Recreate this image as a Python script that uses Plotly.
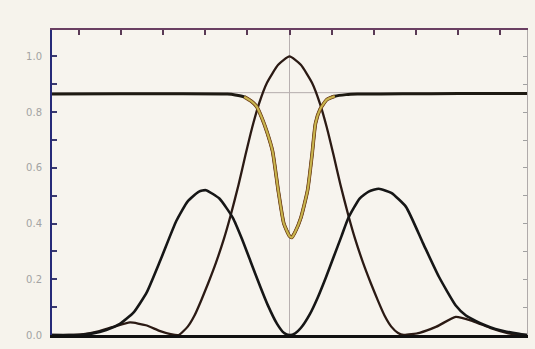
import plotly.graph_objects as go

# x in units where the central peak's first zero is ~1; 0 = centre line
A_x = [-2.10, -1.95, -1.82, -1.70, -1.55, -1.41, -1.27, -1.15, -1.05, -0.98, -0.90,
       -0.84, -0.78, -0.72, -0.65, -0.58, -0.52, -0.45, -0.39, -0.33, -0.27, -0.20,
       -0.10, 0.0, 0.10, 0.20, 0.27, 0.33, 0.39, 0.45, 0.52, 0.58, 0.65, 0.72, 0.78,
       0.84, 0.90, 0.96, 1.01, 1.15, 1.30, 1.47, 1.62, 1.78, 1.92, 2.02, 2.10]
A_y = [0.0, 0.0, 0.003, 0.012, 0.03, 0.045, 0.035, 0.015, 0.003, 0.0, 0.03,
       0.07, 0.125, 0.185, 0.26, 0.345, 0.43, 0.54, 0.645, 0.745, 0.83, 0.905,
       0.97, 1.0, 0.97, 0.905, 0.83, 0.745, 0.645, 0.54, 0.43, 0.345, 0.26, 0.185, 0.125,
       0.07, 0.03, 0.007, 0.0, 0.008, 0.03, 0.065, 0.05, 0.025, 0.008, 0.0, 0.0]

B_x = [-2.10, -1.95, -1.85, -1.75, -1.62, -1.50, -1.38, -1.26, -1.14, -1.00, -0.90,
       -0.80, -0.74, -0.62, -0.50, -0.42, -0.345, -0.26, -0.195, -0.11, -0.05, 0.0,
       0.05, 0.10, 0.18, 0.25, 0.32, 0.39, 0.46, 0.52, 0.62, 0.70, 0.79, 0.90, 1.03,
       1.18, 1.32, 1.47, 1.56, 1.65, 1.73, 1.82, 1.92, 2.03, 2.10]
B_y = [0.0, 0.0, 0.0, 0.005, 0.018, 0.04, 0.08, 0.155, 0.27, 0.41, 0.48,
       0.515, 0.52, 0.49, 0.42, 0.345, 0.265, 0.175, 0.11, 0.04, 0.008, 0.0,
       0.006, 0.025, 0.075, 0.135, 0.205, 0.28, 0.355, 0.42, 0.49, 0.515, 0.525, 0.51, 0.46,
       0.33, 0.21, 0.106, 0.07, 0.05, 0.035, 0.022, 0.012, 0.004, 0.0]

C_x = [-2.10, -1.50, -1.00, -0.55, -0.48, -0.40, -0.34, -0.29, -0.245, -0.20, -0.15,
       -0.10, -0.05, 0.0, 0.02, 0.05, 0.10, 0.16, 0.20, 0.23, 0.27, 0.33, 0.40,
       0.50, 0.60, 1.00, 1.50, 2.10]
C_y = [0.865, 0.866, 0.866, 0.865, 0.862, 0.855, 0.84, 0.82, 0.78, 0.73, 0.66,
       0.52, 0.40, 0.355, 0.35, 0.37, 0.42, 0.52, 0.65, 0.76, 0.81, 0.845, 0.857,
       0.863, 0.865, 0.866, 0.867, 0.867]

ref_level = 0.87
y_tickvals = [0.0, 0.1, 0.2, 0.3, 0.4, 0.5, 0.6, 0.7, 0.8, 0.9, 1.0]
y_ticktext = ["0.0", "", "0.2", "", "0.4", "", "0.6", "", "0.8", "", "1.0"]

X_RANGE = [-2.10, 2.10]
Y_RANGE = [0.0, 1.095]

fig = go.Figure()

# thin reference lines (centre vertical, horizontal level)
fig.add_hline(y=ref_level, line=dict(color="#b3abab", width=1), layer="below")
fig.add_vline(x=0, line=dict(color="#b8b0b0", width=1), layer="below")

sp = dict(shape="spline", smoothing=0.5)
fig.add_trace(go.Scatter(x=A_x, y=A_y, mode="lines", line=dict(color="#2b1a14", width=2.3, **sp), hoverinfo="skip"))
fig.add_trace(go.Scatter(x=B_x, y=B_y, mode="lines", line=dict(color="#161616", width=2.6, **sp), hoverinfo="skip"))
fig.add_trace(go.Scatter(x=C_x, y=C_y, mode="lines", line=dict(color="#1e1a12", width=3, **sp), hoverinfo="skip"))

# coloured dip portion of C
dip_idx = [i for i, v in enumerate(C_y) if v < 0.85]
dx = [C_x[i] for i in range(dip_idx[0] - 1, dip_idx[-1] + 2)]
dy = [C_y[i] for i in range(dip_idx[0] - 1, dip_idx[-1] + 2)]
fig.add_trace(go.Scatter(x=dx, y=dy, mode="lines", line=dict(color="#7a4a1e", width=3.6, **sp), hoverinfo="skip"))
fig.add_trace(go.Scatter(x=dx, y=dy, mode="lines", line=dict(color="#c9b64e", width=2.0, **sp), hoverinfo="skip"))

# invisible trace to carry the top/right axes
fig.add_trace(go.Scatter(x=A_x, y=A_y, xaxis="x2", yaxis="y2", mode="lines", line=dict(width=0), opacity=0, hoverinfo="skip"))

fig.update_layout(
    width=535, height=349,
    margin=dict(l=52, r=8, t=30, b=8),
    paper_bgcolor="#f6f3ec", plot_bgcolor="#f7f4ee",
    showlegend=False,
    xaxis=dict(range=X_RANGE, showgrid=False, zeroline=False, showticklabels=False, ticks="",
               showline=True, linecolor="#111111", linewidth=2.5),
    xaxis2=dict(range=X_RANGE, overlaying="x", side="top", anchor="y", showgrid=False, zeroline=False,
                showticklabels=False, ticks="inside", tick0=0, dtick=0.3717, ticklen=5,
                tickcolor="#5a3a55", tickwidth=1.5,
                showline=True, linecolor="#6a3f62", linewidth=2),
    yaxis=dict(range=Y_RANGE, showgrid=False, zeroline=False, tickmode="array",
               tickvals=y_tickvals, ticktext=y_ticktext, ticks="inside", ticklen=5,
               tickcolor="#3a3a70", tickwidth=1.5, ticklabelstandoff=6,
               tickfont=dict(family="DejaVu Sans", size=10, color="#a3a3a3"),
               showline=True, linecolor="#262a78", linewidth=2),
    yaxis2=dict(range=Y_RANGE, overlaying="y", side="right", anchor="x", showgrid=False, zeroline=False,
                tickmode="array", tickvals=y_tickvals, showticklabels=False, ticks="inside",
                ticklen=4, tickcolor="#a0a0a0", showline=True, linecolor="#b0aaaa", linewidth=1),
)

fig.write_html("out.html", config={"displayModeBar": False},
               post_script="document.body.style.margin='0';document.body.style.background='#f6f3ec';")
